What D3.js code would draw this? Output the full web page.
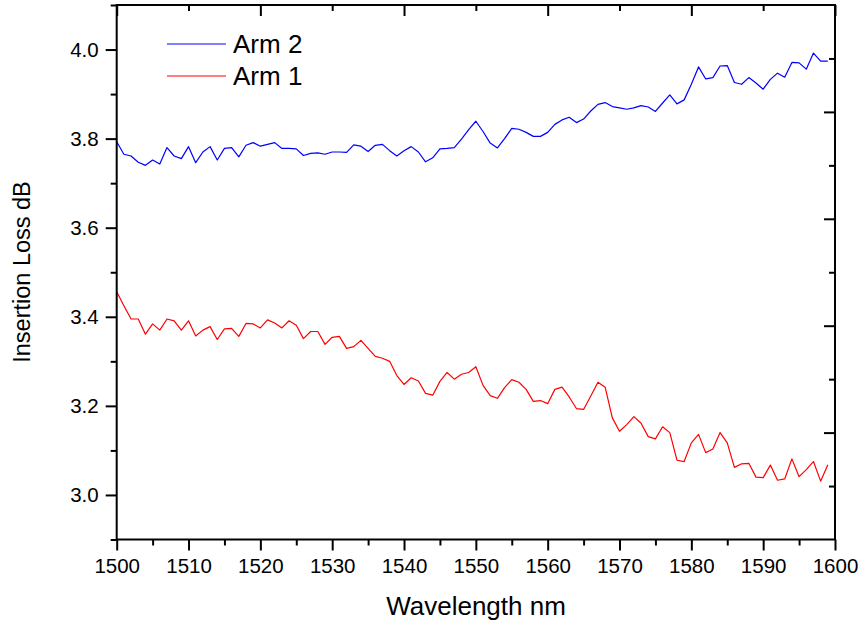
<!DOCTYPE html>
<html>
<head>
<meta charset="utf-8">
<script src="https://cdn.jsdelivr.net/npm/d3@7"></script>
<style>
  body { margin: 0; background: #fff; }
  svg { display: block; font-family: "Liberation Sans", Arial, sans-serif; }
</style>
</head>
<body>
<div id="chart"></div>
<script>
// wavelength samples (nm)
const wavelength = [
  1500,1501,1502,1503,1504,1505,1506,1507,1508,1509,
  1510,1511,1512,1513,1514,1515,1516,1517,1518,1519,
  1520,1521,1522,1523,1524,1525,1526,1527,1528,1529,
  1530,1531,1532,1533,1534,1535,1536,1537,1538,1539,
  1540,1541,1542,1543,1544,1545,1546,1547,1548,1549,
  1550,1551,1552,1553,1554,1555,1556,1557,1558,1559,
  1560,1561,1562,1563,1564,1565,1566,1567,1568,1569,
  1570,1571,1572,1573,1574,1575,1576,1577,1578,1579,
  1580,1581,1582,1583,1584,1585,1586,1587,1588,1589,
  1590,1591,1592,1593,1594,1595,1596,1597,1598,1599
];

// insertion loss, arm 2 (blue)
const arm2 = [
  3.793,3.765,3.761,3.747,3.740,3.752,3.743,3.780,3.761,3.755,
  3.782,3.746,3.770,3.782,3.752,3.778,3.780,3.759,3.785,3.791,
  3.783,3.787,3.791,3.778,3.778,3.777,3.762,3.767,3.768,3.765,
  3.770,3.770,3.769,3.786,3.783,3.771,3.785,3.787,3.773,3.761,
  3.773,3.782,3.770,3.748,3.757,3.777,3.778,3.780,3.799,3.820,
  3.839,3.816,3.790,3.779,3.800,3.823,3.821,3.814,3.805,3.805,
  3.814,3.832,3.842,3.848,3.836,3.844,3.862,3.877,3.881,3.872,
  3.869,3.866,3.869,3.874,3.871,3.861,3.880,3.898,3.878,3.887,
  3.922,3.961,3.934,3.937,3.963,3.964,3.926,3.922,3.937,3.925,
  3.911,3.933,3.947,3.938,3.971,3.970,3.956,3.992,3.974,3.974
];

// insertion loss, arm 1 (red)
const arm1 = [
  3.456,3.425,3.395,3.395,3.361,3.384,3.370,3.395,3.391,3.370,
  3.391,3.357,3.370,3.378,3.349,3.373,3.374,3.356,3.385,3.384,
  3.375,3.393,3.386,3.375,3.391,3.381,3.351,3.367,3.367,3.338,
  3.354,3.356,3.329,3.333,3.347,3.329,3.311,3.307,3.300,3.268,
  3.248,3.263,3.256,3.228,3.224,3.255,3.275,3.260,3.271,3.275,
  3.288,3.246,3.223,3.217,3.241,3.259,3.253,3.237,3.210,3.212,
  3.205,3.237,3.242,3.220,3.194,3.192,3.222,3.253,3.242,3.173,
  3.143,3.158,3.176,3.161,3.131,3.126,3.153,3.140,3.078,3.075,
  3.117,3.136,3.095,3.103,3.140,3.117,3.062,3.070,3.071,3.040,
  3.039,3.067,3.033,3.036,3.081,3.041,3.057,3.075,3.031,3.068
];

const xTicks = [1500,1510,1520,1530,1540,1550,1560,1570,1580,1590,1600];
const yTicks = [3.0,3.2,3.4,3.6,3.8,4.0];

const series = [
  { name: "Arm 2", values: arm2, color: "#0000ff" },
  { name: "Arm 1", values: arm1, color: "#ff0000" }
];

const width = 865, height = 626;
const mLeft = 116.7, mRight = 835, mTop = 5, mBottom = 539.5;

const svg = d3.select("#chart").append("svg")
  .attr("width", width)
  .attr("height", height);

const x = d3.scaleLinear().domain([1500, 1600]).range([mLeft, mRight]);
const y = d3.scaleLinear().domain([2.9, 4.1]).range([mBottom, mTop]);

// lines
const line = d3.line()
  .x((d, i) => x(wavelength[i]))
  .y(d => y(d));

series.forEach(s => {
  svg.append("path")
    .attr("d", line(s.values))
    .attr("fill", "none")
    .attr("stroke", s.color)
    .attr("stroke-width", 1.2)
    .attr("stroke-linejoin", "round");
});

// axes
function styleAxis(g) {
  g.select(".domain").remove();
  g.selectAll("line").attr("stroke", "#000").attr("stroke-width", 2);
  g.selectAll("text").attr("font-size", 20.5).attr("fill", "#000");
}

// bottom: labelled every 10, minor every 5
svg.append("g")
  .attr("transform", `translate(0,${mBottom})`)
  .call(d3.axisBottom(x).tickValues(xTicks).tickSize(11).tickPadding(8).tickFormat(d3.format("d")))
  .call(styleAxis);
svg.append("g")
  .attr("transform", `translate(0,${mBottom})`)
  .call(d3.axisBottom(x).tickValues(d3.range(1505, 1600, 10)).tickSize(6).tickFormat(""))
  .call(styleAxis);

// left: labelled every 0.2, minor every 0.1
svg.append("g")
  .attr("transform", `translate(${mLeft},0)`)
  .call(d3.axisLeft(y).tickValues(yTicks).tickSize(11).tickPadding(7).tickFormat(d3.format(".1f")))
  .call(styleAxis);
svg.append("g")
  .attr("transform", `translate(${mLeft},0)`)
  .call(d3.axisLeft(y).tickValues([2.9,3.1,3.3,3.5,3.7,3.9,4.1]).tickSize(6).tickFormat(""))
  .call(styleAxis);

// top: inward ticks, long every 20, short between
svg.append("g")
  .attr("transform", `translate(0,${mTop})`)
  .call(d3.axisBottom(x).tickValues([1500,1520,1540,1560,1580,1600]).tickSize(11).tickFormat(""))
  .call(styleAxis);
svg.append("g")
  .attr("transform", `translate(0,${mTop})`)
  .call(d3.axisBottom(x).tickValues([1510,1530,1550,1570,1590]).tickSize(6).tickFormat(""))
  .call(styleAxis);

// right: inward ticks, 10 divisions
const yr = d3.scaleLinear().domain([0, 10]).range([mBottom, mTop]);
svg.append("g")
  .attr("transform", `translate(${mRight},0)`)
  .call(d3.axisLeft(yr).tickValues([2,4,6,8]).tickSize(11).tickFormat(""))
  .call(styleAxis);
svg.append("g")
  .attr("transform", `translate(${mRight},0)`)
  .call(d3.axisLeft(yr).tickValues([1,3,5,7,9]).tickSize(6).tickFormat(""))
  .call(styleAxis);

// frame
svg.append("rect")
  .attr("x", mLeft).attr("y", mTop)
  .attr("width", mRight - mLeft).attr("height", mBottom - mTop)
  .attr("fill", "none")
  .attr("stroke", "#000")
  .attr("stroke-width", 2);

// axis titles
svg.append("text")
  .attr("x", 476)
  .attr("y", 615)
  .attr("text-anchor", "middle")
  .attr("font-size", 26)
  .text("Wavelength nm");

svg.append("text")
  .attr("transform", `translate(30,272) rotate(-90)`)
  .attr("text-anchor", "middle")
  .attr("font-size", 23.5)
  .text("Insertion Loss dB");

// legend
const legend = svg.append("g");
series.forEach((s, i) => {
  const ly = 44 + i * 32;
  legend.append("line")
    .attr("x1", 167).attr("x2", 226)
    .attr("y1", ly).attr("y2", ly)
    .attr("stroke", s.color)
    .attr("stroke-width", 1.2);
  legend.append("text")
    .attr("x", 233)
    .attr("y", ly + 9)
    .attr("font-size", 26)
    .text(s.name);
});
</script>
</body>
</html>
